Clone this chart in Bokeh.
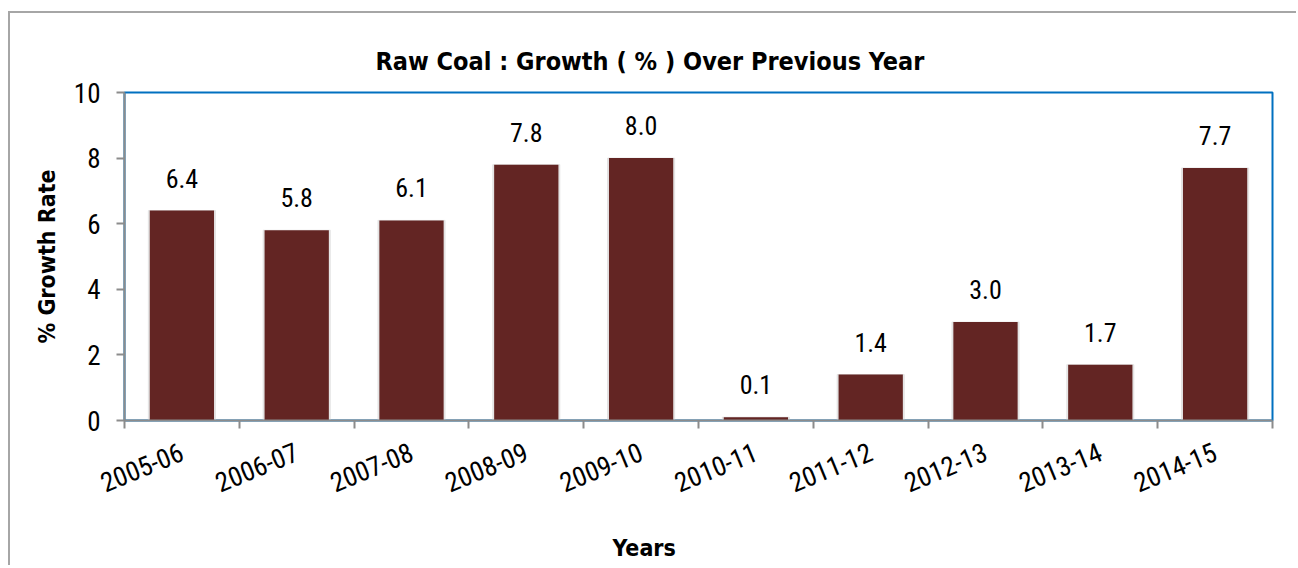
from bokeh.plotting import figure
from bokeh.layouts import column
from bokeh.models import ColumnDataSource, LabelSet, FixedTicker, Range1d
from bokeh.core.properties import value
from bokeh.embed import file_html
from bokeh.resources import INLINE

years = ["2005-06", "2006-07", "2007-08", "2008-09", "2009-10",
         "2010-11", "2011-12", "2012-13", "2013-14", "2014-15"]
growth = [6.4, 5.8, 6.1, 7.8, 8.0, 0.1, 1.4, 3.0, 1.7, 7.7]
y_ticks = [0, 2, 4, 6, 8, 10]

FONT = "Roboto Condensed, Liberation Sans, sans-serif"
BFONT = "DejaVu Sans Condensed, Roboto Condensed, Liberation Sans, sans-serif"
BAR = "#632523"
GRAY = "#8C8C8C"

xs = [i + 0.5 for i in range(len(years))]
src = ColumnDataSource(dict(x=xs, top=growth, label=[f"{v:.1f}" for v in growth]))

p = figure(width=1286, height=502, output_backend="svg", toolbar_location=None,
           x_range=Range1d(0, len(years)), y_range=Range1d(0, 10),
           min_border_left=114, min_border_right=24, min_border_top=79, min_border_bottom=95)

p.title.text = "Raw Coal : Growth ( % ) Over Previous Year"
p.title.text_font = BFONT
p.title.text_font_size = "25px"
p.title.text_font_style = "bold"
p.title.text_color = "#000000"
p.title.align = "left"
p.title.offset = 251
p.title.standoff = 33

p.vbar(x="x", top="top", width=0.585, source=src, color="#D9D9D9", alpha=0.6)
p.vbar(x="x", top="top", width=0.56, source=src, fill_color=BAR, line_color=None)

labels = LabelSet(x="x", y="top", text="label", source=src, text_align="center",
                  text_baseline="alphabetic", y_offset=23, text_font=value(FONT),
                  text_font_size="26px", text_color="#000000")
p.add_layout(labels)

p.xgrid.visible = False
p.ygrid.visible = False
p.outline_line_color = "#0070C0"
p.outline_line_width = 2

ya = p.yaxis[0]
ya.ticker = FixedTicker(ticks=y_ticks)
ya.axis_line_color = GRAY
ya.axis_line_width = 2
ya.major_tick_line_color = GRAY
ya.major_tick_line_width = 2
ya.major_tick_out = 8
ya.major_tick_in = 0
ya.minor_tick_line_color = None
ya.major_label_text_font = FONT
ya.major_label_text_color = "#000000"
ya.major_label_text_font_size = "27px"
ya.major_label_standoff = 16
ya.axis_label = "% Growth Rate"
ya.axis_label_text_font = BFONT
ya.axis_label_text_color = "#000000"
ya.axis_label_text_font_size = "23px"
ya.axis_label_text_font_style = "bold"
ya.axis_label_standoff = 11

xa = p.xaxis[0]
xa.ticker = FixedTicker(ticks=xs, minor_ticks=list(range(len(years) + 1)))
xa.major_label_overrides = {x: y for x, y in zip(xs, years)}
xa.major_label_orientation = 0.39
xa.axis_line_color = GRAY
xa.axis_line_width = 2
xa.major_tick_line_color = None
xa.minor_tick_line_color = GRAY
xa.minor_tick_line_width = 2
xa.minor_tick_out = 8
xa.minor_tick_in = 0
xa.major_label_text_font = FONT
xa.major_label_text_color = "#000000"
xa.major_label_text_font_size = "27px"
xa.major_label_standoff = 22

# strip below the chart holding the x-axis title "Years"
p2 = figure(width=1286, height=50, output_backend="svg", toolbar_location=None,
            x_range=Range1d(0, 1), y_range=Range1d(0, 1),
            x_axis_location=None, y_axis_location=None,
            min_border_left=114, min_border_right=24, min_border_top=45, min_border_bottom=0)
p2.grid.visible = False
p2.outline_line_color = None
p2.title.text = "Years"
p2.title.text_font = BFONT
p2.title.text_font_size = "23px"
p2.title.text_font_style = "bold"
p2.title.text_color = "#000000"
p2.title.align = "left"
p2.title.offset = 488
p2.title.standoff = 0

layout = column(p, p2, spacing=0)
layout.styles = {"border-top": "2px solid #A6A6A6", "border-left": "2px solid #A6A6A6",
                 "margin-top": "11px", "margin-left": "8px"}

open("out.html", "w").write(file_html(layout, INLINE))
